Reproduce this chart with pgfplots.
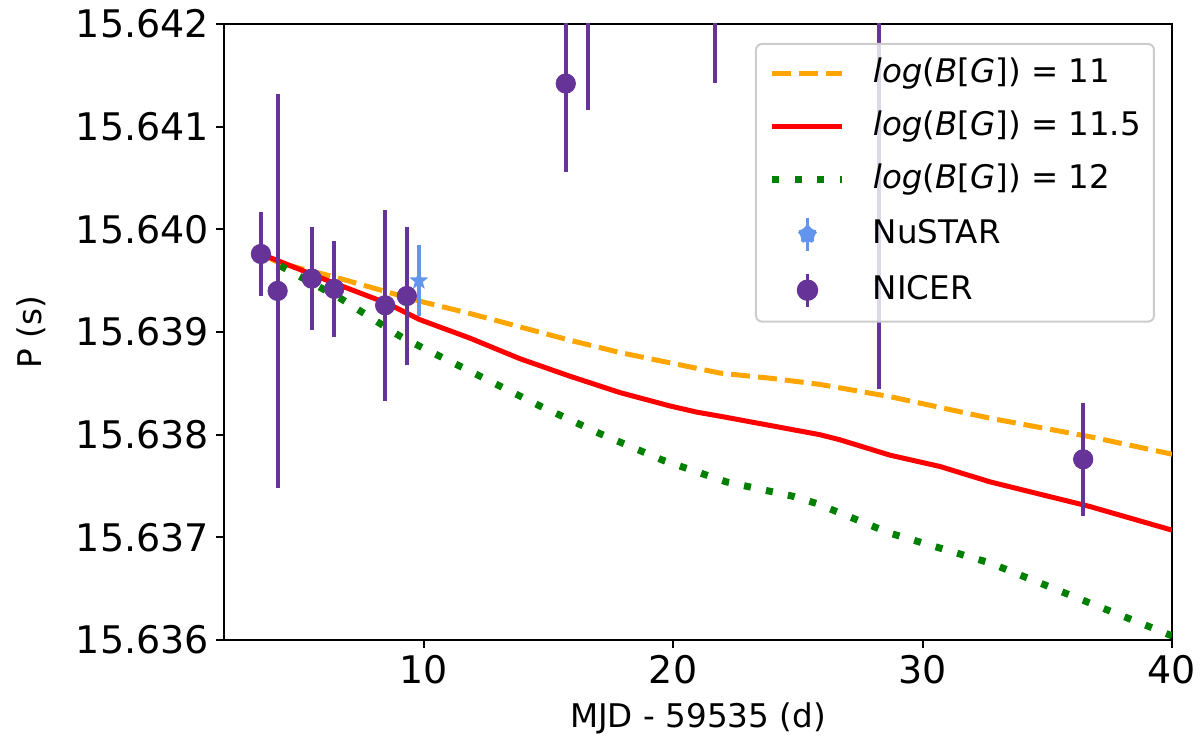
\documentclass[border=0pt]{standalone}
\usepackage{fontspec}
\setmainfont{DejaVu Sans}
\usepackage{pgfplots}
\pgfplotsset{compat=1.18}
\definecolor{mplorange}{HTML}{FFA500}
\definecolor{mplred}{HTML}{FF0000}
\definecolor{mplgreen}{HTML}{008000}
\definecolor{nustar}{HTML}{6495ED}
\definecolor{nicer}{HTML}{663399}
\pgfdeclareplotmark{fstar}{%
  \pgfpathmoveto{\pgfpointpolar{90}{\pgfplotmarksize}}%
  \pgfpathlineto{\pgfpointpolar{126}{0.42\pgfplotmarksize}}%
  \pgfpathlineto{\pgfpointpolar{162}{\pgfplotmarksize}}%
  \pgfpathlineto{\pgfpointpolar{198}{0.42\pgfplotmarksize}}%
  \pgfpathlineto{\pgfpointpolar{234}{\pgfplotmarksize}}%
  \pgfpathlineto{\pgfpointpolar{270}{0.42\pgfplotmarksize}}%
  \pgfpathlineto{\pgfpointpolar{306}{\pgfplotmarksize}}%
  \pgfpathlineto{\pgfpointpolar{342}{0.42\pgfplotmarksize}}%
  \pgfpathlineto{\pgfpointpolar{18}{\pgfplotmarksize}}%
  \pgfpathlineto{\pgfpointpolar{54}{0.42\pgfplotmarksize}}%
  \pgfpathclose\pgfusepathqfill}
\begin{document}
\begin{tikzpicture}
\path[use as bounding box] (-112pt,-54.5pt) rectangle (488pt,320pt);
\begin{axis}[
  at={(0pt,0pt)}, anchor=south west,
  scale only axis, width=474pt, height=308pt,
  xmin=2, xmax=40, ymin=15.636, ymax=15.642,
  xtick={10,20,30,40},
  ytick={15.636,15.637,15.638,15.639,15.640,15.641,15.642},
  yticklabels={15.636,15.637,15.638,15.639,15.640,15.641,15.642},
  /pgf/number format/assume math mode=true,
  tick align=outside, major tick length=4pt,
  tick style={line width=1pt, black},
  axis line style={line width=1pt},
  xtick pos=bottom, ytick pos=left,
  ticklabel style={font=\fontsize{19}{22}\selectfont},
  label style={font=\fontsize{16.3}{19}\selectfont},
  xlabel={MJD - 59535 (d)},
  ylabel={P (s)},
  xlabel style={at={(axis description cs:0.5,-0.1266)}, anchor=center},
  ylabel style={at={(axis description cs:-0.2036,0.5)}, anchor=center},
  legend style={
    at={(1,1)}, anchor=north east, xshift=-8.5pt, yshift=-9.5pt,
    draw=black!20, line width=1pt, rounded corners=3pt,
    fill=white, fill opacity=0.8, text opacity=1, draw opacity=1,
    font=\fontsize{16.25}{19}\selectfont,
    inner xsep=6.5pt, inner ysep=6.5pt, row sep=9.5pt,
    nodes={inner sep=0pt, text height=13pt, text depth=4pt},
    /tikz/every odd column/.append style={column sep=13.5pt},
  },
  legend cell align=left,
  clip=true,
]
\addplot[mplorange, line width=2.5pt, dash pattern=on 9.5pt off 4pt,
  legend image code/.code={\draw[mplorange, line width=2.5pt, draw opacity=1, dash pattern=on 9.5pt off 4pt] (0pt,0pt) -- (35pt,0pt);}]
coordinates {
(3.48,15.63976) (4.24,15.63967) (6.37,15.63954) (9.85,15.63930)
(11.86,15.63918) (13.86,15.63905) (15.86,15.63892) (17.87,15.63880)
(19.87,15.63870) (21.88,15.63860) (23.88,15.63855) (25.88,15.63849)
(28.70,15.63837) (32.71,15.63816) (36.71,15.63798) (40.00,15.63781)
};
\addlegendentry{\textit{log}(\textit{B}[\textit{G}]) = 11}
\addplot[mplred, line width=2.5pt,
  legend image code/.code={\draw[mplred, line width=2.5pt, draw opacity=1] (0pt,0pt) -- (35pt,0pt);}]
coordinates {
(3.48,15.63976) (6.37,15.63948) (8.53,15.63928) (9.85,15.63912)
(11.86,15.63894) (13.86,15.63874) (15.86,15.63857) (17.87,15.63841)
(19.87,15.63828) (20.94,15.63822) (21.88,15.63818) (23.88,15.63809)
(25.88,15.63800) (26.69,15.63795) (28.70,15.63780) (30.70,15.63769)
(32.71,15.63754) (36.71,15.63730) (40.00,15.63707)
};
\addlegendentry{\textit{log}(\textit{B}[\textit{G}]) = 11.5}
\addplot[mplgreen, line width=3.5pt, dash pattern=on 3.5pt off 7.7pt,
  legend image code/.code={\draw[mplgreen, line width=3.5pt, draw opacity=1, dash pattern=on 3.5pt off 7.7pt] (0pt,0pt) -- (35pt,0pt);}]
coordinates {
(3.48,15.63976) (4.36,15.63963) (6.65,15.63933) (9.05,15.63896)
(9.85,15.63886) (12.26,15.63857) (14.66,15.63828) (17.07,15.63801)
(19.60,15.63775) (22.14,15.63754) (24.81,15.63740) (25.75,15.63733)
(28.70,15.63704) (32.71,15.63675) (36.71,15.63636) (39.40,15.63610)
(40.00,15.63604)
};
\addlegendentry{\textit{log}(\textit{B}[\textit{G}]) = 12}
\addplot[only marks, color=nustar, mark=fstar, mark size=5pt,
  error bars/.cd, y dir=both, y explicit, error mark=none,
  error bar style={line width=1.9pt, nustar},
  /pgfplots/.cd,
  legend image code/.code={
    \draw[nustar, line width=1.9pt, draw opacity=1] (17.5pt,-8.25pt) -- (17.5pt,8.25pt);
    \fill[nustar, fill opacity=1, shift={(17.5pt,0pt)}]
      (90:5pt) -- (126:2.1pt) -- (162:5pt) -- (198:2.1pt) -- (234:5pt)
      -- (270:2.1pt) -- (306:5pt) -- (342:2.1pt) -- (18:5pt) -- (54:2.1pt) -- cycle;}]
coordinates {
(9.81,15.63950) +- (0,0.00035)
};
\addlegendentry{NuSTAR}
\addplot[only marks, color=nicer, mark=*, mark size=4.85pt,
  mark options={draw=nicer, fill=nicer},
  error bars/.cd, y dir=both, y explicit, error mark=none,
  error bar style={line width=1.9pt, nicer},
  /pgfplots/.cd,
  legend image code/.code={
    \draw[nicer, line width=1.9pt, draw opacity=1] (17.5pt,-8.25pt) -- (17.5pt,8.25pt);
    \fill[nicer, fill opacity=1] (17.5pt,0pt) circle (4.85pt);}]
coordinates {
(3.48,15.63976) +- (0,0.00041)
(4.15,15.63940) +- (0,0.00192)
(5.52,15.63952) +- (0,0.00050)
(6.42,15.63942) +- (0,0.00047)
(8.46,15.63926) +- (0,0.00093)
(9.33,15.63935) +- (0,0.00067)
(15.70,15.64142) +- (0,0.00086)
(16.59,15.64230) +- (0,0.00114)
(21.69,15.64250) +- (0,0.00108)
(28.26,15.64250) +- (0,0.00406)
(36.44,15.63776) +- (0,0.00055)
};
\addlegendentry{NICER}
\end{axis}
\end{tikzpicture}
\end{document}
